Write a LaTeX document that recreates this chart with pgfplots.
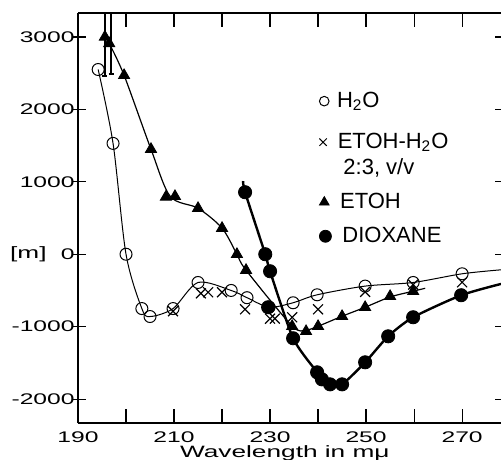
\documentclass[border=0pt]{standalone}
\usepackage{fontspec}
\setmainfont{Liberation Sans}
\newfontfamily\widefont{Liberation Sans}[FakeStretch=1.6]
\newcommand\legfont{\fontsize{11}{13}\selectfont}
\usepackage{pgfplots}
\pgfplotsset{compat=1.18}

% H2O circles
\pgfplotstableread{
x y
194.2 2550
197.3 1530
200.0 0
203.3 -750
205.0 -860
209.8 -750
215.0 -390
221.9 -500
225.2 -600
229.8 -730
234.8 -670
239.8 -560
249.8 -440
259.8 -390
270.0 -270
}\water
% ETOH-H2O crosses
\pgfplotstableread{
x y
209.8 -787
215.6 -540
217.1 -525
220.0 -525
224.8 -760
230.0 -890
231.0 -890
234.6 -870
240.0 -760
249.8 -520
259.8 -420
270.0 -387
}\mixed
% ETOH triangles
\pgfplotstableread{
x y
195.6 3000
196.5 2910
199.6 2470
205.2 1450
208.3 790
210.2 800
215.0 635
220.0 360
223.1 0
225.0 -220
234.6 -994
237.5 -1064
240.0 -994
245.0 -856
249.8 -732
255.0 -580
259.8 -511
}\etoh
% dioxane dots
\pgfplotstableread{
x y
224.8 856
229.0 0
230.0 -235
229.6 -732
234.8 -1160
239.8 -1630
240.8 -1727
242.5 -1796
245.0 -1796
249.8 -1492
254.6 -1133
259.8 -870
269.8 -566
}\diox

\pgfplotsset{
  frame/.style={scale only axis, width=211.5pt, height=205pt,
    xmin=190, xmax=278.1, ymin=-2330, ymax=3330},
  key/.style={frame, hide axis,
    legend image code/.code={\draw[##1] plot coordinates {(0pt,0pt)};},
    legend style={at={(axis cs:240.2,#1)}, anchor=west, draw=none, fill=none,
      inner sep=0pt, column sep=3.5pt}},
}

\begin{document}
\begin{tikzpicture}
\begin{axis}[
  name=ax, frame,
  axis x line*=box, axis y line*=left,
  axis line style={line width=0.8pt},
  tick align=inside, major tick length=7pt,
  tick style={line width=0.6pt, black},
  y tick style={xshift=-3pt},
  xtick={190,200,...,270}, xticklabels={190,,210,,230,,250,,270},
  ytick={-2000,-1000,...,3000}, yticklabels={-2000,-1000,0,1000,2000,3000},
  ticklabel style={font=\widefont\fontsize{7.7}{9}\selectfont},
  xticklabel style={inner sep=0pt, yshift=-4pt},
  yticklabel style={inner sep=0pt, xshift=-1.5pt},
  xlabel={Wavelength in mμ}, ylabel={[m]},
  every axis x label/.style={at={(axis description cs:0.489,0)}, anchor=north,
    yshift=-11pt, inner sep=0pt, font=\widefont\fontsize{8.2}{10}\selectfont},
  every axis y label/.style={at={(axis description cs:0,0.4117)}, anchor=east,
    xshift=-15.5pt, inner sep=0pt, font=\widefont\fontsize{8.2}{10}\selectfont},
]
% off-scale bars at the top
\addplot[black, line width=0.8pt] coordinates {(195.6,3400) (195.6,2460)};
\addplot[black, line width=0.8pt] coordinates {(195.1,2460) (196.1,2460)};
\addplot[black, line width=0.8pt] coordinates {(196.9,3400) (196.9,2490)};
\addplot[black, line width=0.8pt] coordinates {(196.4,2490) (197.4,2490)};
% H2O
\addplot[black, line width=0.5pt, smooth, tension=0.5] coordinates {
(194.2,2550) (197.3,1530) (200,0) (203.3,-750) (205,-860) (209.8,-750)
(215,-390) (221.9,-500) (225.2,-600) (229.8,-730) (234.8,-670) (239.8,-560)
(249.8,-440) (259.8,-390) (270,-270) (278.1,-215)};
\addplot[black, only marks, mark=o, mark size=3pt, line width=0.5pt] table {\water};
% ETOH-H2O
\addplot[black, only marks, mark=x, mark size=3.5pt, line width=0.6pt] table {\mixed};
% ETOH
\addplot[black, line width=0.6pt, smooth, tension=0.5] coordinates {
(196.5,2910) (199.6,2470) (205.2,1450) (209.2,800) (215,635) (220,360)
(223.1,0) (225,-220) (234.6,-990) (237.5,-1045) (240,-994) (245,-856)
(249.8,-732) (255,-590) (259.8,-511) (262.3,-470)};
\addplot[black, only marks, mark=triangle*, mark size=3.2pt] table {\etoh};
% dioxane
\addplot[black, line width=1.2pt, smooth, tension=0.4] coordinates {
(224.4,1010) (224.8,856) (229,0) (230,-235) (234.8,-1160) (239.8,-1630)
(240.8,-1727) (242.5,-1796) (245,-1796) (249.8,-1492) (254.6,-1133)
(259.8,-870) (269.8,-566) (278.1,-410)};
\addplot[black, only marks, mark=*, mark size=3.3pt] table {\diox};
\node[anchor=west, inner sep=0pt, font=\legfont] at (axis cs:245.2,1188) {2:3, v/v};
\end{axis}
% legend keys, one per axis
\begin{axis}[key=2113]
\addlegendimage{black, mark=o, mark size=2.4pt, line width=0.5pt}
\addlegendentry{\legfont\hspace*{-1.5pt}H\textsubscript{2}O}
\end{axis}
\begin{axis}[key=1547]
\addlegendimage{black, mark=x, mark size=2.6pt, line width=0.5pt}
\addlegendentry{\legfont ETOH-H\textsubscript{2}O}
\end{axis}
\begin{axis}[key=718]
\addlegendimage{black, mark=triangle*, mark size=2.8pt}
\addlegendentry{\legfont ETOH}
\end{axis}
\begin{axis}[key=248]
\addlegendimage{black, mark=*, mark size=3pt}
\addlegendentry{\legfont DIOXANE}
\end{axis}
% right-hand ticks
\begin{axis}[
  frame,
  axis x line=none, axis y line*=right,
  axis line style={draw=none},
  tick align=inside, major tick length=3pt,
  tick style={line width=0.6pt, black},
  ytick={-2000,-1000,...,3000}, yticklabels={},
]
\end{axis}
\pgfresetboundingbox
\path[use as bounding box] ([xshift=-39pt,yshift=-18pt]ax.south west)
  rectangle ([yshift=6.5pt]ax.north east);
\end{tikzpicture}
\end{document}
